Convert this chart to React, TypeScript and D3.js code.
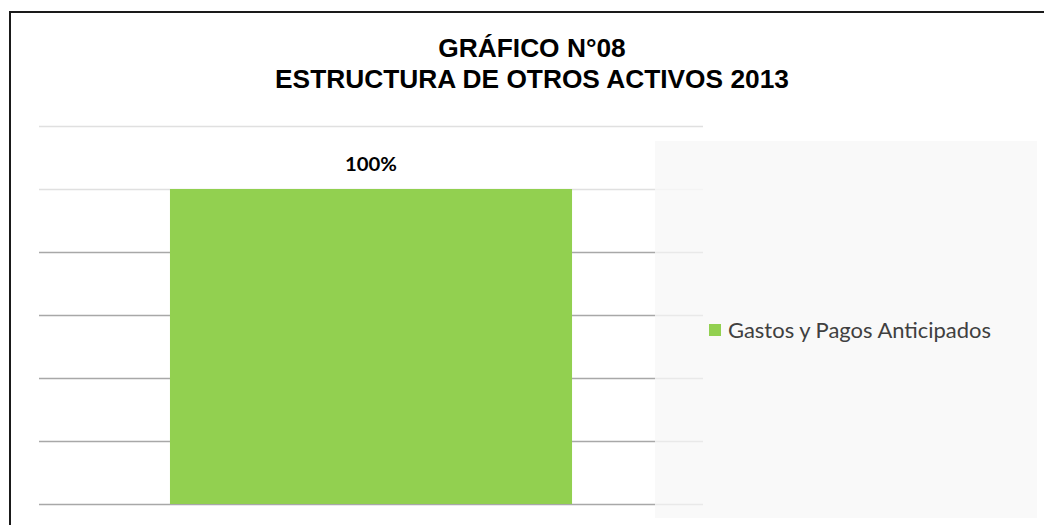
import React from "react";
import * as d3 from "d3";

const categories: string[] = ["2013"];
const seriesName = "Gastos y Pagos Anticipados";
const values: number[] = [1.0];
const yTicks: number[] = [0, 0.2, 0.4, 0.6, 0.8, 1.0, 1.2];
const titleLines: string[] = ["GRÁFICO N°08", "ESTRUCTURA DE OTROS ACTIVOS 2013"];

const W = 1044;
const H = 525;
const plot = { left: 39, right: 703, top: 126, bottom: 504 };

export default function App() {
  const x = d3
    .scaleBand<string>()
    .domain(categories)
    .range([plot.left, plot.right])
    .paddingInner(0.2457)
    .paddingOuter(0.2457);
  const y = d3.scaleLinear().domain([0, 1.2]).range([plot.bottom, plot.top]);
  const pct = d3.format(".0%");

  return (
    <svg
      width={W}
      height={H}
      style={{ position: "absolute", left: 0, top: 0, background: "#fff" }}
    >
      <rect x={0} y={0} width={W} height={H} fill="#fff" />
      {/* frame */}
      <line x1={9} y1={12} x2={W} y2={12} stroke="#1a1a1a" strokeWidth={2} />
      <line x1={10} y1={11} x2={10} y2={H} stroke="#1a1a1a" strokeWidth={2} />

      {/* title */}
      {titleLines.map((t, i) => (
        <text
          key={i}
          x={532}
          y={57 + i * 31}
          textAnchor="middle"
          fontFamily="Liberation Sans, Arial, sans-serif"
          fontWeight="bold"
          fontSize={26.3}
          fill="#000"
        >
          {t}
        </text>
      ))}

      {/* gridlines */}
      {yTicks.map((t) => (
        <line
          key={t}
          x1={plot.left}
          x2={plot.right}
          y1={Math.round(y(t)) + 0.5}
          y2={Math.round(y(t)) + 0.5}
          stroke={t >= 1.0 ? "#e0e0e0" : "#a8a8a8"}
          strokeWidth={1.5}
        />
      ))}

      {/* bars */}
      {categories.map((c, i) => (
        <g key={c}>
          <rect
            x={x(c)}
            y={y(values[i])}
            width={x.bandwidth()}
            height={y(0) - y(values[i])}
            fill="#92d050"
          />
          <text
            x={(x(c) as number) + x.bandwidth() / 2}
            y={y(values[i]) - 18}
            textAnchor="middle"
            fontFamily="Lato, sans-serif"
            fontWeight="bold"
            fontSize={19}
            textLength={52}
            lengthAdjust="spacingAndGlyphs"
            fill="#000"
          >
            {pct(values[i])}
          </text>
        </g>
      ))}

      {/* legend */}
      <rect x={655} y={141} width={382} height={377} fill="#f8f8f8" fillOpacity={0.82} />
      <rect x={709} y={324} width={12} height={12} fill="#92d050" />
      <text
        x={728}
        y={338}
        fontFamily="Lato, sans-serif"
        fontSize={21}
        textLength={263}
        lengthAdjust="spacingAndGlyphs"
        fill="#404040"
      >
        {seriesName}
      </text>
    </svg>
  );
}
